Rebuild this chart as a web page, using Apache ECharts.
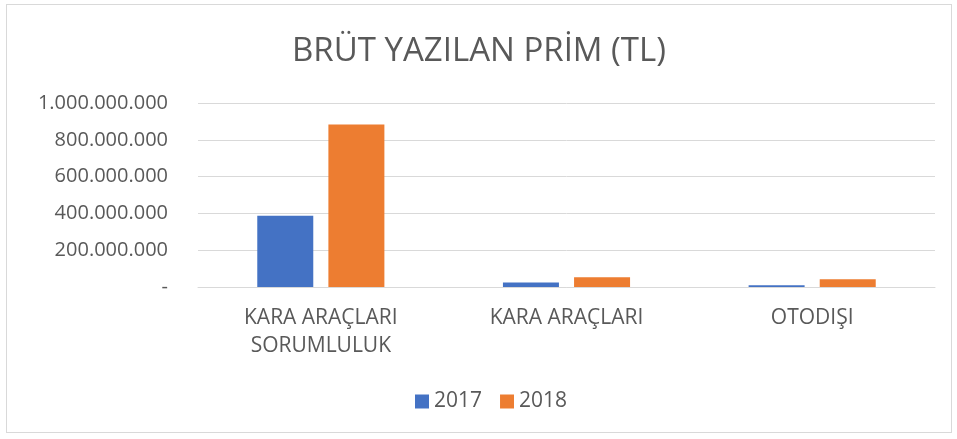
<!DOCTYPE html>
<html>

<head>
    <meta charset="utf-8">
    <title>BRÜT YAZILAN PRİM (TL)</title>
    <style>
        html, body {
            margin: 0;
            padding: 0;
            background: #ffffff;
        }
        #chart-container {
            position: absolute;
            left: 6px;
            top: 4px;
            width: 944px;
            height: 427px;
            border: 1px solid #d9d9d9;
        }
    </style>
    <script src="https://cdn.jsdelivr.net/npm/echarts@6/dist/echarts.min.js"></script>
</head>

<body>
    <div id="chart-container"></div>
    <script>
        // veriler
        const categories = ['KARA ARAÇLARI\nSORUMLULUK', 'KARA ARAÇLARI', 'OTODIŞI'];
        const seriesNames = ['2017', '2018'];
        const values2017 = [387000000, 25000000, 9000000];
        const values2018 = [883000000, 53000000, 42000000];
        const yTicks = [0, 200000000, 400000000, 600000000, 800000000, 1000000000];

        function fmtTL(v) {
            if (v === 0) return '-';
            return String(Math.round(v)).replace(/\B(?=(\d{3})+(?!\d))/g, '.');
        }

        var dom = document.getElementById('chart-container');
        var myChart = echarts.init(dom, null, { renderer: 'canvas' });
        var fontName = '"Open Sans", "Noto Sans", sans-serif';

        var option = {
            animation: false,
            textStyle: { fontFamily: fontName },
            title: {
                text: 'BRÜT YAZILAN PRİM (TL)',
                left: 'center',
                top: 25,
                textStyle: {
                    fontFamily: fontName,
                    fontSize: 33,
                    fontWeight: 'normal',
                    color: '#595959'
                }
            },
            legend: {
                top: 381,
                left: 403,
                itemWidth: 14,
                itemHeight: 14,
                itemGap: 18,
                icon: 'rect',
                data: seriesNames,
                textStyle: { fontFamily: fontName, fontSize: 21, color: '#595959' }
            },
            grid: {
                left: 191,
                right: 16,
                top: 98,
                bottom: 145
            },
            xAxis: {
                type: 'category',
                data: categories,
                axisLine: { lineStyle: { color: '#d9d9d9', width: 1 } },
                axisTick: { show: false },
                axisLabel: {
                    fontFamily: fontName,
                    fontSize: 21,
                    color: '#595959',
                    margin: 17,
                    lineHeight: 28
                }
            },
            yAxis: {
                type: 'value',
                min: yTicks[0],
                max: yTicks[yTicks.length - 1],
                interval: 200000000,
                axisLine: { show: false },
                axisTick: { show: false },
                splitLine: { lineStyle: { color: '#d9d9d9', width: 1 } },
                axisLabel: {
                    fontFamily: fontName,
                    fontSize: 20,
                    color: '#595959',
                    margin: 30,
                    formatter: fmtTL
                }
            },
            series: [
                {
                    name: seriesNames[0],
                    type: 'bar',
                    data: values2017,
                    barWidth: 56,
                    barGap: '27%',
                    itemStyle: { color: '#4472c4' }
                },
                {
                    name: seriesNames[1],
                    type: 'bar',
                    data: values2018,
                    barWidth: 56,
                    itemStyle: { color: '#ed7d31' }
                }
            ]
        };

        myChart.setOption(option);
        window.addEventListener('resize', myChart.resize);
    </script>
</body>

</html>
